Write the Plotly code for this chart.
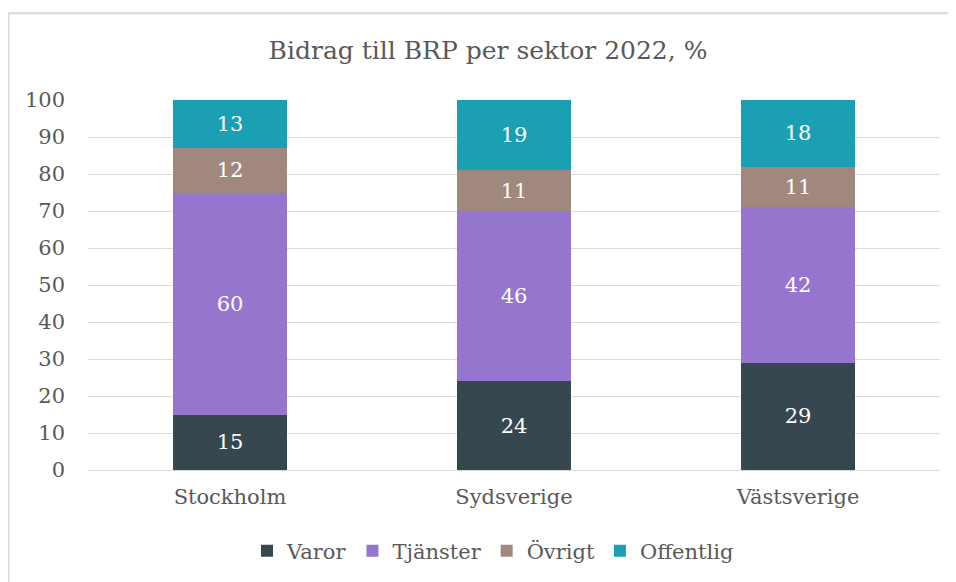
import plotly.graph_objects as go

regions = ["Stockholm", "Sydsverige", "Västsverige"]
series_names = ["Varor", "Tjänster", "Övrigt", "Offentlig"]
varor = [15, 24, 29]
tjanster = [60, 46, 42]
ovrigt = [12, 11, 11]
offentlig = [13, 19, 18]
colors = ["#37474F", "#9575CD", "#A1887F", "#1BA0B3"]
y_ticks = [0, 10, 20, 30, 40, 50, 60, 70, 80, 90, 100]

FONT = "DejaVu Serif"
GREY = "#595959"

fig = go.Figure()
for name, vals, col in zip(series_names, [varor, tjanster, ovrigt, offentlig], colors):
    fig.add_trace(go.Bar(
        name=name, x=regions, y=vals, marker=dict(color=col, line=dict(width=0)),
        text=vals, texttemplate="%{text}", textposition="inside",
        insidetextanchor="middle", textangle=0,
        textfont=dict(family=FONT, size=21, color="white"),
    ))

# page body has an 8px margin; figure is placed at (8, 8)
W, H = 948, 574
L, R, T, B = 80, 16, 92, 111
pw, ph = W - L - R, H - T - B
bx = (0.5 - L) / pw
ty = 1 + (T - 5) / ph

fig.update_layout(
    width=W, height=H, barmode="stack", bargap=0.6,
    margin=dict(l=L, r=R, t=T, b=B),
    paper_bgcolor="white", plot_bgcolor="white",
    font=dict(family=FONT, color=GREY),
    title=dict(text="Bidrag till BRP per sektor 2022, %", x=480 / W, xanchor="center",
               y=1 - 42 / H, yanchor="middle", font=dict(family=FONT, size=25, color=GREY)),
    xaxis=dict(showgrid=False, showline=False, ticks="", ticklabelstandoff=12,
               tickfont=dict(size=21, color=GREY)),
    yaxis=dict(range=[0, 100], tickvals=y_ticks, showgrid=True, gridcolor="#D9D9D9",
               gridwidth=1, zeroline=True, zerolinecolor="#D9D9D9", zerolinewidth=1,
               ticks="", ticklabelstandoff=22, tickfont=dict(size=21, color=GREY)),
    legend=dict(orientation="h", x=(485 - L) / pw, xanchor="center", y=(463 - 543) / ph,
                yanchor="middle", font=dict(size=21, color=GREY), traceorder="normal"),
    shapes=[
        dict(type="line", xref="paper", yref="paper", x0=bx, x1=bx, y0=-0.4, y1=ty,
             line=dict(color="#D9D9D9", width=2)),
        dict(type="line", xref="paper", yref="paper", x0=bx, x1=1.05, y0=ty, y1=ty,
             line=dict(color="#D9D9D9", width=2)),
    ],
)

fig.write_html("out.html")
